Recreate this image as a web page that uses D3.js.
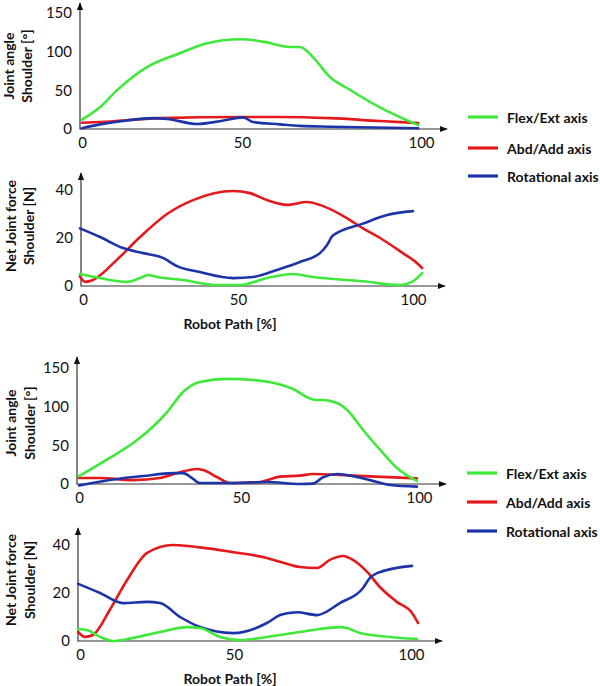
<!DOCTYPE html>
<html><head><meta charset="utf-8">
<script src="https://cdn.jsdelivr.net/npm/d3@7"></script>
<style>
html,body{margin:0;padding:0;background:#fff;}
svg{display:block;font-family:Lato,"Open Sans",sans-serif;}
</style></head>
<body><svg id="chart" width="600" height="686"></svg>
<script>
// ---------- data (x = robot path %, y = value) ----------
const xTicks = [0, 50, 100];
const angleTicks = [0, 50, 100, 150];
const forceTicks = [0, 20, 40];
const seriesNames = ["Flex/Ext axis", "Abd/Add axis", "Rotational axis"];
const xTitle = "Robot Path [%]";
const angleTitle = ["Joint angle", "Shoulder [°]"];
const forceTitle = ["Net Joint force", "Shoulder [N]"];

// Panel 1: joint angle (upper figure)
const p1Flex = [[0,12],[5.6,28],[10.9,50],[20.3,80],[30.6,98],[39.1,111],[49.4,116],[57,112],[60.6,108],[63.4,106],[66.2,106],[69.8,93],[74.6,67],[79.3,53],[88.5,28],[99.2,5]];
const p1Abd  = [[0,8],[5.6,9],[24.4,14],[49.4,15.5],[60.6,15.5],[74.6,14],[88.5,10.3],[99.2,7.8]];
const p1Rot  = [[0,1],[5.6,6],[14,11],[22.2,14],[26.6,13],[35.9,6.5],[43.1,10],[50.3,15],[53.1,9],[60.6,6],[66.2,4],[74.6,3],[99.2,1]];
// Panel 2: net joint force (upper figure)
const p2Flex = [[-1,5],[5.5,3.3],[14.2,1.7],[18.4,3.3],[21,4.6],[23.9,3.75],[32.3,2.5],[43.2,0.4],[50.6,0.4],[58.3,3.3],[65.7,5],[71.4,3.75],[85.7,2],[96.3,0.4],[99.7,1.7],[102.6,5.4]];
const p2Abd  = [[-1,4],[0.8,1.7],[3.2,2.5],[11,11],[18.4,20.4],[27.1,30],[35.5,35.8],[48.4,39.6],[53.4,38.7],[58.3,35.8],[64,33.8],[69.7,35],[73.4,33.8],[81.1,28.3],[85.7,24],[90.6,20],[97.1,13.7],[101.1,9.6],[102.6,7.5]];
const p2Rot  = [[-1,24],[5.5,20.4],[12.9,15.8],[19.4,13.7],[25.8,11.7],[30.3,8.3],[37.7,5.8],[48.4,3.3],[54.3,3.75],[61.1,6.7],[67.7,10],[73.4,13.7],[75.4,17],[77.1,21],[85.7,26],[92.6,29.6],[100,31.2]];
// Panel 3: joint angle (lower figure)
const p3Flex = [[0,10],[9.6,34],[16.7,53],[22.8,74],[27.2,93],[32.1,119],[37.3,132],[45.7,136],[57.9,132],[61.5,128],[65.2,121.5],[69.1,111],[70.8,108.6],[73,108.6],[77,104.7],[79.8,95.7],[84.3,69.8],[89.1,44],[93.8,20.7],[99.4,3.9]];
const p3Abd  = [[0,7.7],[6.5,7.7],[16.7,5],[25,7.7],[30.2,14],[36.4,19.4],[38.3,18],[42.6,9],[46.6,1.3],[55.3,2.6],[61,9.5],[66.6,10.8],[70.2,12.9],[79.8,11.2],[99.4,7.3]];
const p3Rot  = [[0,-2],[11.7,6.5],[19.8,10.3],[29,14],[32.1,14],[34.9,7.7],[37.3,1.3],[47.5,1.3],[57.3,2.5],[66.6,0],[70.2,0.5],[73,8.6],[77,13],[84.3,7.3],[91.9,-1.3],[99.4,-3.4]];
// Panel 4: net joint force (lower figure)
const p4Flex = [[-0.6,5],[2.3,4.6],[6.5,1.7],[10.7,0],[17.2,1.3],[26,3.75],[34.7,5.8],[39,5.4],[45.5,1.7],[51.7,0.4],[59.3,1.7],[63,2.5],[68.6,3.75],[72.3,4.6],[79.9,5.8],[81.9,5.4],[85.6,3.3],[94,1.7],[101.7,0.8]];
const p4Abd  = [[-0.6,3.75],[1.6,1.7],[4.2,2.5],[9.7,13],[15.3,25.4],[21.8,36.7],[30.2,40],[39,39],[49.7,37],[59.3,34.6],[63,33],[68.6,30.8],[73.4,30.4],[77.1,33.8],[80.8,35.4],[83.6,33.8],[87.6,28.8],[91.2,22.5],[96,16.3],[100.3,11.7],[102,7.5]];
const p4Rot  = [[-0.6,23.8],[6.5,20],[13.9,15.8],[21.8,16.3],[26,15.8],[32.5,10],[39,5.8],[49.7,3.3],[59.3,7.5],[63,10.8],[65.8,11.7],[67.8,12],[73.4,10.8],[79.9,15.8],[86.4,22],[88.4,26.3],[90.4,28.3],[100.3,31.3]];

// ---------- layout / style ----------
const colors = ["#3fe83a", "#e3191c", "#1d34a8"];
const drawOrder = [1, 2, 0];
const svg = d3.select("#chart");

const panels = [
  {series:[p1Flex,p1Abd,p1Rot], xr:[82,242,421], yd:[0,150], yr:[129,13], top:3,   right:447, ticks:angleTicks, title:angleTitle, tcx:[8,26], tcy:66,  xt:null},
  {series:[p2Flex,p2Abd,p2Rot], xr:[83,238,413], yd:[0,40],  yr:[286,190], top:173, right:445, ticks:forceTicks, title:forceTitle, tcx:[10,28], tcy:226, xt:323},
  {series:[p3Flex,p3Abd,p3Rot], xr:[79,241,419], yd:[0,150], yr:[484,368], top:357, right:446, ticks:angleTicks, title:angleTitle, tcx:[10,29], tcy:423, xt:null},
  {series:[p4Flex,p4Abd,p4Rot], xr:[80,234,411], yd:[0,40],  yr:[641,545], top:528, right:442, ticks:forceTicks, title:forceTitle, tcx:[10,29], tcy:580, xt:678}
];

const defs = svg.append("defs");
defs.append("marker").attr("id","arr").attr("viewBox","0 0 10 10")
  .attr("refX",9).attr("refY",5).attr("markerWidth",8).attr("markerHeight",8)
  .attr("markerUnits","userSpaceOnUse").attr("orient","auto")
  .append("path").attr("d","M0,1 L10,5 L0,9 Z").attr("fill","#111");

panels.forEach(p => {
  const x = d3.scaleLinear().domain([0,50,100]).range(p.xr);
  const y = d3.scaleLinear().domain(p.yd).range(p.yr);
  const g = svg.append("g");
  const ax = p.xr[0] - 2; // y-axis x position
  // axes lines with arrows
  g.append("line").attr("x1",ax).attr("x2",ax).attr("y1",y(0)+0.5).attr("y2",p.top)
    .attr("stroke","#333").attr("stroke-width",1.2).attr("marker-end","url(#arr)");
  g.append("line").attr("x1",ax).attr("x2",p.right).attr("y1",y(0)).attr("y2",y(0))
    .attr("stroke","#333").attr("stroke-width",1.2).attr("marker-end","url(#arr)");
  // y tick labels
  const yAxis = g.append("g").attr("transform",`translate(${ax},0)`)
    .call(d3.axisLeft(y).tickValues(p.ticks).tickSize(0).tickPadding(8).tickFormat(d3.format("d")));
  yAxis.select(".domain").remove();
  yAxis.selectAll("text").attr("font-size",15).attr("fill","#111").attr("font-family","Lato,sans-serif");
  // x tick labels
  const xAxis = g.append("g").attr("transform",`translate(0,${y(0)})`)
    .call(d3.axisBottom(x).tickValues(xTicks).tickSize(0).tickPadding(8).tickFormat(d3.format("d")));
  xAxis.select(".domain").remove();
  xAxis.selectAll("text").attr("font-size",15).attr("fill","#111").attr("font-family","Lato,sans-serif");
  // lines
  const line = d3.line().x(d => x(d[0])).y(d => y(d[1])).curve(d3.curveMonotoneX);
  drawOrder.forEach(i => {
    g.append("path").datum(p.series[i]).attr("d",line)
      .attr("fill","none").attr("stroke",colors[i]).attr("stroke-width",2.6)
      .attr("stroke-linecap","round").attr("stroke-linejoin","round");
  });
  // y title
  p.title.forEach((t,k) => {
    g.append("text").attr("transform",`translate(${p.tcx[k]},${p.tcy}) rotate(-90)`)
      .attr("text-anchor","middle").attr("dominant-baseline","central")
      .attr("font-size",14).attr("font-weight","bold").attr("fill","#111").text(t);
  });
  if (p.xt !== null) {
    g.append("text").attr("x",230).attr("y",p.xt).attr("text-anchor","middle")
      .attr("dominant-baseline","central").attr("font-size",14).attr("font-weight","bold")
      .attr("fill","#111").text(xTitle);
  }
});

// legends
const legends = [{x:468, ys:[117,148,176]}, {x:467, ys:[473,502,531]}];
legends.forEach(L => {
  seriesNames.forEach((name,i) => {
    svg.append("line").attr("x1",L.x).attr("x2",L.x+30).attr("y1",L.ys[i]).attr("y2",L.ys[i])
      .attr("stroke",colors[i]).attr("stroke-width",3.2);
    svg.append("text").attr("x",L.x+39).attr("y",L.ys[i]).attr("dominant-baseline","central")
      .attr("font-size",14).attr("font-weight","bold").attr("fill","#111").text(name);
  });
});
</script></body></html>
